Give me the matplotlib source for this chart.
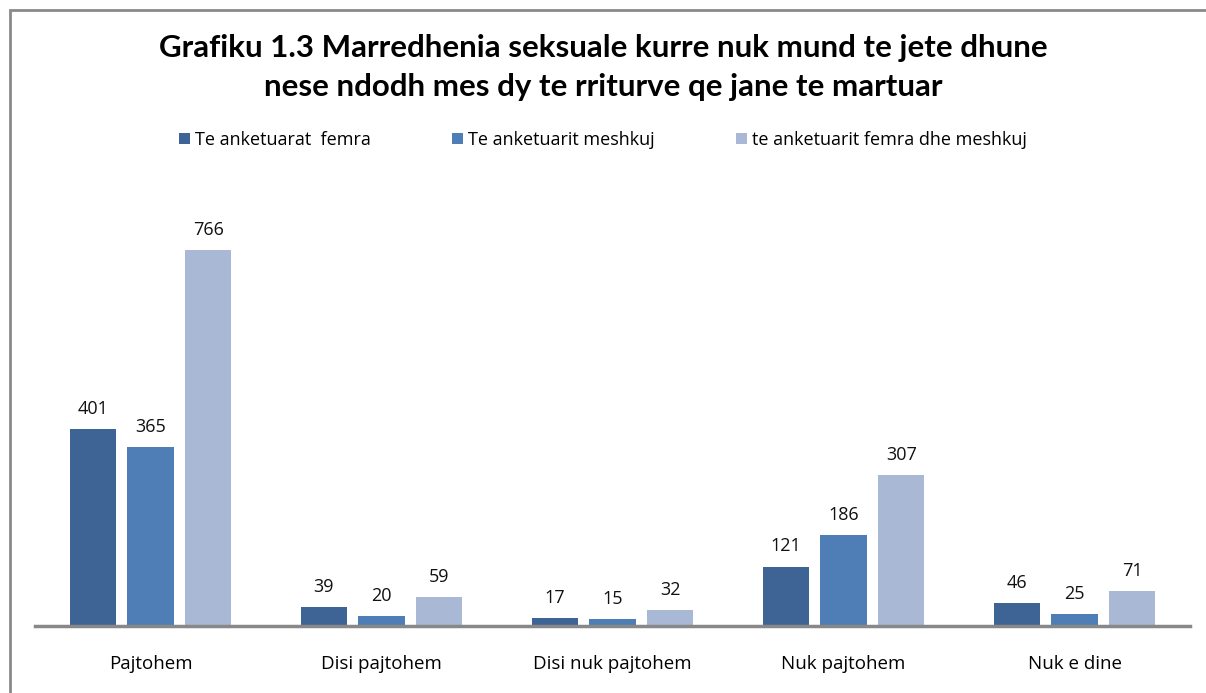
import numpy as np
import matplotlib.pyplot as plt
from matplotlib.patches import Rectangle

categories = ["Pajtohem", "Disi pajtohem", "Disi nuk pajtohem", "Nuk pajtohem", "Nuk e dine"]
series_names = ["Te anketuarat  femra", "Te anketuarit meshkuj", "te anketuarit femra dhe meshkuj"]
femra = [401, 39, 17, 121, 46]
meshkuj = [365, 20, 15, 186, 25]
gjithsej = [766, 59, 32, 307, 71]
colors = ["#3E6496", "#4E7EB5", "#A9B9D5"]

W, H = 1206, 693
fig = plt.figure(figsize=(W / 100, H / 100), dpi=100)
plt.rcParams['font.family'] = ['Open Sans', 'DejaVu Sans']

# outer frame (only top and left edges are visible in the picture)
fig.patches.append(Rectangle((10 / W, -0.1), 1.2, 1 - 10 / H + 0.1, transform=fig.transFigure,
                             fill=False, edgecolor="#8a8a8a", linewidth=2))

ax = fig.add_axes([35 / W, (H - 626) / H, (1190 - 35) / W, 442 / H])
x = np.arange(len(categories))
w = 0.2
gap = 0.25
for i, (vals, name) in enumerate(zip([femra, meshkuj, gjithsej], series_names)):
    pos = x + (i - 1) * gap
    ax.bar(pos, vals, width=w, color=colors[i], label=name, zorder=2)
    for p, v in zip(pos, vals):
        ax.annotate(str(v), (p, v), xytext=(0, 8), textcoords="offset points",
                    ha="center", va="bottom", fontsize=13, color="#111111")

ax.set_xlim(-0.5, len(categories) - 0.5)
ax.set_ylim(0, 900)
ax.set_yticks([])
ax.set_xticks(x)
ax.set_xticklabels(categories, fontsize=13.5)
ax.tick_params(axis="x", length=0, pad=21)
for s in ["top", "right", "left"]:
    ax.spines[s].set_visible(False)
ax.spines["bottom"].set_color("#888888")
ax.spines["bottom"].set_linewidth(2.5)

title_font = dict(ha="center", va="center", fontsize=22.5, fontweight="bold",
                  family=['Lato', 'DejaVu Sans'])
fig.text(0.5, 1 - 48 / H, "Grafiku 1.3 Marredhenia seksuale kurre nuk mund te jete dhune", **title_font)
fig.text(0.5, 1 - 87 / H, "nese ndodh mes dy te rriturve qe jane te martuar", **title_font)

fig.legend(loc="center", bbox_to_anchor=(0.5, 1 - 140 / H), ncol=3, frameon=False,
           fontsize=13, handlelength=0.6, handleheight=0.6, handletextpad=0.3, columnspacing=4.5)

fig.savefig("out.png", dpi=100)
